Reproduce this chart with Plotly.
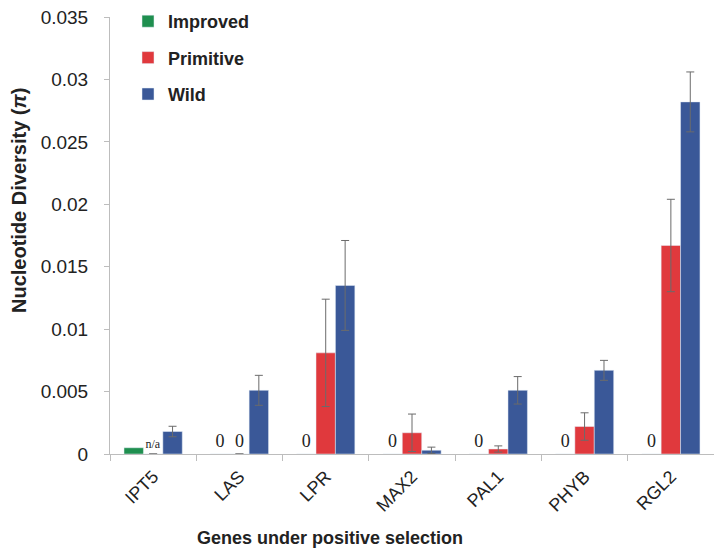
import plotly.graph_objects as go

genes = ["IPT5", "LAS", "LPR", "MAX2", "PAL1", "PHYB", "RGL2"]
improved = [0.0005, 0, 0, 0, 0, 0, 0]
improved_text = ["", "0", "0", "0", "0", "0", "0"]
primitive = [0, 0, 0.0081, 0.0017, 0.0004, 0.0022, 0.0167]
primitive_err = [None, None, 0.0043, 0.0015, 0.00025, 0.0011, 0.0037]
primitive_text = ["n/a", "0", "", "", "", "", ""]
wild = [0.0018, 0.0051, 0.0135, 0.0003, 0.0051, 0.0067, 0.0282]
wild_err = [0.00042, 0.0012, 0.0036, 0.00025, 0.0011, 0.0008, 0.0024]
y_tickvals = [0, 0.005, 0.01, 0.015, 0.02, 0.025, 0.03, 0.035]
y_ticktext = ["0", "0.005", "0.01", "0.015", "0.02", "0.025", "0.03", "0.035"]

err_style = dict(type="data", visible=True, color="#6b6b6b", thickness=1, width=4)

# figure is drawn inside the page body (8px default margin)
W, H = 706, 540
L, R, T, B = 102, 0, 9, 94
pw, ph = W - L - R, H - T - B

fig = go.Figure()
fig.add_trace(go.Bar(
    x=genes, y=improved, name="<b>Improved</b>", marker_color="#1f8f4f",
    text=improved_text, textposition="outside",
    textfont=dict(family="Liberation Serif", size=18, color="#222"),
    legendgroup="a",
))
fig.add_trace(go.Bar(
    x=genes, y=primitive, name="<b>Primitive</b>", marker_color="#e0393d",
    error_y=dict(array=primitive_err, **err_style),
    text=primitive_text, textposition="outside",
    textfont=dict(family="Liberation Serif", size=[12, 18, 18, 18, 18, 18, 18], color="#222"),
    legendgroup="b",
))
fig.add_trace(go.Bar(
    x=genes, y=wild, name="<b>Wild</b>", marker_color="#3a5898",
    error_y=dict(array=wild_err, **err_style),
    legendgroup="c",
))

fig.update_layout(
    width=W, height=H,
    margin=dict(l=L, r=R, t=T, b=B, autoexpand=False),
    paper_bgcolor="white", plot_bgcolor="white",
    barmode="group", bargap=0.325, bargroupgap=0,
    font=dict(family="Liberation Sans", color="#222"),
    showlegend=True,
    legend=dict(
        x=(120 - L) / pw, y=1 + 14 / ph, xanchor="left", yanchor="top",
        font=dict(size=18, color="#222"),
        tracegroupgap=10, bgcolor="rgba(0,0,0,0)",
        itemwidth=30,
    ),
    annotations=[
        dict(text="<b>Nucleotide Diversity (<i>π</i>)</b>", x=(11 - L) / pw,
             y=(H - B - 193) / ph,
             xref="paper", yref="paper", xanchor="center", yanchor="middle",
             textangle=-90, showarrow=False, font=dict(size=20, color="#222")),
        dict(text="<b>Genes under positive selection</b>", x=(322 - L) / pw,
             y=(H - B - 530) / ph,
             xref="paper", yref="paper", xanchor="center", yanchor="middle",
             showarrow=False, font=dict(size=18, color="#222")),
    ],
)

fig.update_xaxes(
    showline=True, linecolor="#bdbdbd", linewidth=1,
    ticks="outside", tickson="boundaries", ticklen=6, tickcolor="#bdbdbd",
    tickangle=-45, tickfont=dict(size=18, color="#222"), automargin=False,
    ticklabelstandoff=4,
)
fig.update_yaxes(
    range=[0, 0.035], tickmode="array", tickvals=y_tickvals, ticktext=y_ticktext,
    showline=True, linecolor="#bdbdbd", linewidth=1,
    ticks="outside", ticklen=5, tickcolor="#bdbdbd", ticklabelstandoff=12,
    ticklabeloverflow="allow",
    showgrid=False, zeroline=False, automargin=False,
    tickfont=dict(size=19, color="#222"),
)
fig.write_html("out.html")
